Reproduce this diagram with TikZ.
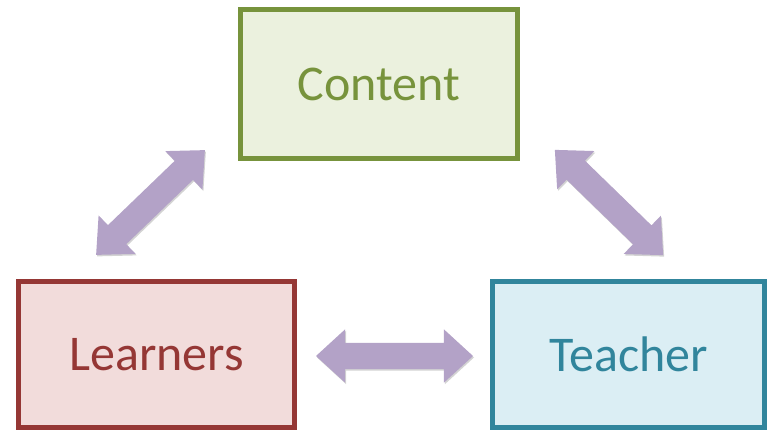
\documentclass[tikz,border=0pt]{standalone}
\usepackage{fontspec}
\setmainfont{Carlito}
\usetikzlibrary{shapes.arrows,shadows}

\definecolor{contentline}{HTML}{77933C}
\definecolor{contentfill}{HTML}{EBF1DE}
\definecolor{learnersline}{HTML}{953735}
\definecolor{learnersfill}{HTML}{F2DCDB}
\definecolor{teacherline}{HTML}{31859C}
\definecolor{teacherfill}{HTML}{DBEEF4}
\definecolor{arrowfill}{HTML}{B3A2C7}

\begin{document}
\begin{tikzpicture}[x=1pt,y=-1pt,
    box/.style={draw,line width=5pt,inner sep=0pt,font=\fontsize{50}{60}\selectfont,
      drop shadow={shadow xshift=1pt,shadow yshift=-2pt,opacity=.35}},
    fatarrow/.style={double arrow,fill=arrowfill,inner sep=0pt,text height=26pt,text depth=0pt,
      minimum width=53pt,double arrow head extend=13.5pt,double arrow tip angle=85,
      drop shadow={shadow xshift=1pt,shadow yshift=-1.5pt,opacity=.35}}]
    \useasboundingbox (0,0) rectangle (767,431);
    % the three boxes
    \node[box,draw=contentline,fill=contentfill,text=contentline,minimum width=277pt,minimum height=149pt] (content) at (379,84) {Content};
    \node[box,draw=learnersline,fill=learnersfill,text=learnersline,minimum width=276pt,minimum height=146pt] (learners) at (156.5,354.5) {Learners};
    \node[box,draw=teacherline,fill=teacherfill,text=teacherline,minimum width=272pt,minimum height=146pt] (teacher) at (628.5,354.5) {Teacher};
    % arrow ends
    \coordinate (lefttail) at (96,255);
    \coordinate (lefthead) at (205,150);
    \coordinate (righttail) at (555,150);
    \coordinate (righthead) at (663,255);
    \coordinate (bottomtail) at (316,356);
    \coordinate (bottomhead) at (473,356);
    % double arrows
    \path (lefttail) -- (lefthead) node[fatarrow,midway,sloped,minimum height=151pt] (leftarrow) {};
    \path (righttail) -- (righthead) node[fatarrow,midway,sloped,minimum height=151pt] (rightarrow) {};
    \path (bottomtail) -- (bottomhead) node[fatarrow,midway,sloped,minimum height=157pt] (bottomarrow) {};
\end{tikzpicture}
\end{document}
